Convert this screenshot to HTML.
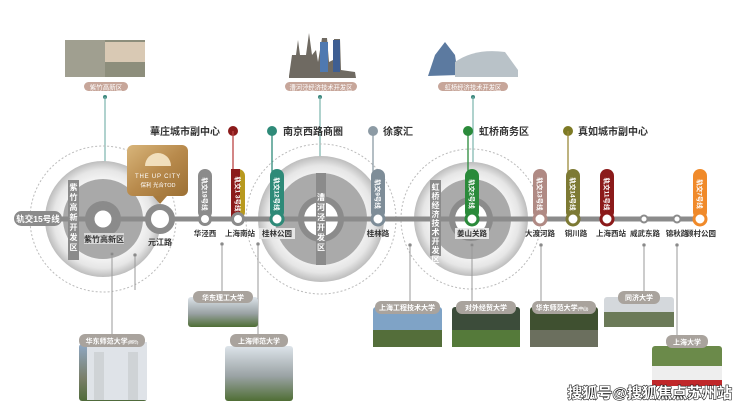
<!DOCTYPE html>
<html><head><meta charset="utf-8"><style>
html,body{margin:0;padding:0;background:#fff;}
svg{display:block;font-family:"Liberation Sans","Noto Sans CJK SC",sans-serif;}
</style></head><body>
<svg width="740" height="406" viewBox="0 0 740 406" xmlns="http://www.w3.org/2000/svg">
<defs>
<radialGradient id="rg" cx="50%" cy="50%" r="50%">
<stop offset="0.6" stop-color="#fafafa"/><stop offset="0.85" stop-color="#e6e6e6"/><stop offset="1" stop-color="#bdbdbd"/>
</radialGradient>
<linearGradient id="gold" x1="0" y1="0" x2="1" y2="1"><stop offset="0" stop-color="#d8b57a"/><stop offset="0.5" stop-color="#b88a4c"/><stop offset="1" stop-color="#9c7034"/></linearGradient>
<linearGradient id="ph1" x1="0" y1="0" x2="0" y2="1"><stop offset="0" stop-color="#8fa8c4"/><stop offset="0.6" stop-color="#7a7f6a"/><stop offset="1" stop-color="#4f6b3a"/></linearGradient>
<linearGradient id="ph2" x1="0" y1="0" x2="0" y2="1"><stop offset="0" stop-color="#dde4ea"/><stop offset="0.55" stop-color="#9aa2a4"/><stop offset="1" stop-color="#4f6e35"/></linearGradient>
</defs>

<!-- top photos -->
<rect x="65" y="40" width="80" height="37" fill="#8d8e7c"/>
<rect x="65" y="40" width="40" height="37" fill="#a09f90"/>
<rect x="105" y="42" width="40" height="20" fill="#d9c9b4"/>
<rect x="84" y="82" width="44" height="9" rx="4.5" fill="#c7a69a"/>
<text x="106" y="89.5" font-size="6.5" fill="#fff" text-anchor="middle">紫竹高新区</text>
<circle cx="105" cy="97" r="2" fill="#3f8a80"/><line x1="105" y1="97" x2="105" y2="165" stroke="#7ab3ac" stroke-width="1.2"/>

<path d="M289 76 L292 55 L296 55 L298 40 L300 55 L306 55 L309 33 L312 55 L316 50 L318 62 L322 38 L327 38 L329 62 L333 60 L334 39 L340 39 L341 70 L355 72 L356 78 L289 78Z" fill="#6f6a62"/>
<rect x="320" y="42" width="8" height="30" fill="#4f79b0"/><rect x="333" y="40" width="7" height="32" fill="#3e5e92"/>
<rect x="285" y="82" width="72" height="9" rx="4.5" fill="#c7a69a"/>
<text x="321" y="89.5" font-size="6.3" fill="#fff" text-anchor="middle">漕河泾经济技术开发区</text>
<circle cx="320" cy="97" r="2" fill="#3f8a80"/><line x1="320" y1="97" x2="320" y2="160" stroke="#7ab3ac" stroke-width="1.2"/>

<path d="M428 76 L435 55 L445 42 L455 55 L458 75Z" fill="#5c7aa0"/>
<path d="M455 62 Q475 48 505 52 L518 70 L518 77 L455 77Z" fill="#b9c2c8"/>
<rect x="438" y="82" width="70" height="9" rx="4.5" fill="#c7a69a"/>
<text x="473" y="89.5" font-size="6.3" fill="#fff" text-anchor="middle">虹桥经济技术开发区</text>
<circle cx="473" cy="97" r="2" fill="#3f8a80"/><line x1="473" y1="97" x2="473" y2="170" stroke="#7ab3ac" stroke-width="1.2"/>

<!-- big circles -->
<circle cx="103" cy="219" r="73" fill="none" stroke="#bbb" stroke-width="1" stroke-dasharray="2,2"/>
<circle cx="103" cy="219" r="58" fill="url(#rg)"/>
<circle cx="103" cy="219" r="40" fill="#a9a9a9"/>
<rect x="68" y="180" width="11" height="80" fill="#8b8b8b"/>
<circle cx="103" cy="219" r="18" fill="#8b8b8b"/>

<circle cx="321" cy="219" r="75" fill="none" stroke="#bbb" stroke-width="1" stroke-dasharray="2,2"/>
<circle cx="321" cy="219" r="63" fill="url(#rg)"/>
<circle cx="321" cy="219" r="46" fill="#aaaaaa"/>
<rect x="316" y="173" width="10" height="92" fill="#8b8b8b"/>
<circle cx="321" cy="219" r="23" fill="#8b8b8b"/>
<circle cx="321" cy="219" r="17" fill="#fff"/>
<rect x="316" y="191" width="10" height="60" fill="#8b8b8b"/>

<circle cx="471" cy="219" r="70" fill="none" stroke="#bbb" stroke-width="1" stroke-dasharray="2,2"/>
<circle cx="471" cy="219" r="57" fill="url(#rg)"/>
<circle cx="471" cy="219" r="40" fill="#aaaaaa"/>
<circle cx="471" cy="219" r="22" fill="#8b8b8b"/>
<circle cx="471" cy="219" r="16" fill="#fff"/>
<rect x="430" y="180" width="11" height="76" fill="#8b8b8b"/>

<!-- main line -->
<line x1="55" y1="219" x2="700" y2="219" stroke="#8b8b8b" stroke-width="5"/>
<rect x="14" y="211" width="48" height="15" rx="7.5" fill="#8b8b8b"/>
<text x="38" y="222" font-size="8.5" fill="#fff" text-anchor="middle" font-weight="bold">轨交15号线</text>

<!-- zone vertical labels -->
<g font-size="8" fill="#fff" text-anchor="middle" font-weight="bold">
<text x="73.5" y="190">紫</text><text x="73.5" y="200">竹</text><text x="73.5" y="210">高</text><text x="73.5" y="220">新</text><text x="73.5" y="230">开</text><text x="73.5" y="240">发</text><text x="73.5" y="250">区</text>
<text x="321" y="200">漕</text><text x="321" y="210">河</text><text x="321" y="220">泾</text><text x="321" y="230">开</text><text x="321" y="240">发</text><text x="321" y="250">区</text>
<text x="435.5" y="190">虹</text><text x="435.5" y="199">桥</text><text x="435.5" y="208">经</text><text x="435.5" y="217">济</text><text x="435.5" y="226">技</text><text x="435.5" y="235">术</text><text x="435.5" y="244">开</text><text x="435.5" y="253">发</text><text x="435.5" y="262">区</text>
</g>

<!-- Zizhu station -->
<circle cx="103" cy="219" r="11" fill="#fff"/><circle cx="103" cy="219" r="11" fill="none" stroke="#8b8b8b" stroke-width="5"/>
<rect x="84" y="233" width="40" height="11" fill="#d8d8d8"/>
<text x="104" y="242" font-size="8" text-anchor="middle" font-weight="bold" fill="#333">紫竹高新区</text>

<!-- Up city -->
<rect x="127" y="145" width="61" height="51" rx="6" fill="url(#gold)"/>
<path d="M153 196 L160 204 L167 196Z" fill="#a77a3e"/>
<path d="M145 166 A13 13 0 0 1 171 166Z" fill="#f6e7c8" opacity="0.9"/>
<text x="158" y="178" font-size="6" fill="#fff" text-anchor="middle" letter-spacing="0.8">THE UP CITY</text>
<text x="158" y="187" font-size="5.5" fill="#fff" text-anchor="middle">保利 光合TOD</text>
<circle cx="160" cy="219" r="12" fill="#fff"/><circle cx="160" cy="219" r="12" fill="none" stroke="#8b8b8b" stroke-width="6"/>
<text x="160" y="245" font-size="8" text-anchor="middle" font-weight="bold" fill="#333">元江路</text>

<!-- headers -->
<g font-size="10" font-weight="bold" fill="#333">
<text x="150" y="135">華庄城市副中心</text><circle cx="233" cy="131" r="5" fill="#8b1a1a"/>
<circle cx="272" cy="131" r="5" fill="#2e8a78"/><text x="283" y="135">南京西路商圈</text>
<circle cx="373" cy="131" r="5" fill="#8c9aa4"/><text x="383" y="135">徐家汇</text>
<circle cx="468" cy="131" r="5" fill="#2a8a3a"/><text x="479" y="135">虹桥商务区</text>
<circle cx="568" cy="131" r="5" fill="#7d7a24"/><text x="578" y="135">真如城市副中心</text>
</g>
<g stroke-width="1.3">
<line x1="233" y1="131" x2="233" y2="172" stroke="#b44"/>
<line x1="272" y1="131" x2="272" y2="172" stroke="#2e8a78"/>
<line x1="373" y1="131" x2="373" y2="172" stroke="#8c9aa4"/>
<line x1="468" y1="131" x2="468" y2="172" stroke="#2a8a3a"/>
<line x1="568" y1="131" x2="568" y2="172" stroke="#9a8a3a"/>
</g>

<!-- line pills & stations -->
<g font-size="6.5" fill="#fff" text-anchor="middle" font-weight="bold">
<rect x="198" y="169" width="14" height="50" rx="7" fill="#8b8b8b"/>
<text transform="translate(205,194) rotate(90)" y="2.5">轨交19号线</text>
<rect x="231" y="169" width="14" height="50" rx="7" fill="#b8991e"/><rect x="231" y="169" width="9" height="50" fill="#8b1a1a"/>
<text transform="translate(238,194) rotate(90)" y="2.5">轨交1 3号线</text>
<rect x="270" y="169" width="14" height="50" rx="7" fill="#2e8a78"/>
<text transform="translate(277,194) rotate(90)" y="2.5">轨交12号线</text>
<rect x="371" y="169" width="14" height="50" rx="7" fill="#7e8d98"/>
<text transform="translate(378,194) rotate(90)" y="2.5">轨交9号线</text>
<rect x="465" y="169" width="14" height="50" rx="7" fill="#2a8a3a"/>
<text transform="translate(472,194) rotate(90)" y="2.5">轨交2号线</text>
<rect x="533" y="169" width="14" height="50" rx="7" fill="#b08a84"/>
<text transform="translate(540,194) rotate(90)" y="2.5">轨交13号线</text>
<rect x="566" y="169" width="14" height="50" rx="7" fill="#7d7a34"/>
<text transform="translate(573,194) rotate(90)" y="2.5">轨交14号线</text>
<rect x="600" y="169" width="14" height="50" rx="7" fill="#8b1a1a"/>
<text transform="translate(607,194) rotate(90)" y="2.5">轨交11号线</text>
<rect x="693" y="169" width="14" height="50" rx="7" fill="#f08a2a"/>
<text transform="translate(700,194) rotate(90)" y="2.5">轨交7号线</text>
</g>
<g stroke-width="3" fill="#fff">
<circle cx="205" cy="219" r="5.5" stroke="#8b8b8b"/>
<circle cx="238" cy="219" r="5.5" stroke="#8b8b8b"/>
<circle cx="277" cy="219" r="6" stroke="#2e8a78"/>
<circle cx="378" cy="219" r="6" stroke="#7e8d98"/>
<circle cx="472" cy="219" r="6" stroke="#2a8a3a"/>
<circle cx="540" cy="219" r="6" stroke="#b08a84"/>
<circle cx="573" cy="219" r="6" stroke="#7d7a34"/>
<circle cx="607" cy="219" r="6" stroke="#8b1a1a"/>
<circle cx="644" cy="219" r="3.5" stroke="#8b8b8b" stroke-width="2"/>
<circle cx="677" cy="219" r="3.5" stroke="#8b8b8b" stroke-width="2"/>
<circle cx="700" cy="219" r="6" stroke="#f08a2a"/>
</g>
<g font-size="7.5" font-weight="bold" fill="#333" text-anchor="middle">
<text x="205" y="236">华泾西</text><text x="240" y="236">上海南站</text>
<rect x="259" y="228" width="36" height="11" fill="#e6e6e6"/><text x="277" y="236">桂林公园</text>
<text x="378" y="236">桂林路</text>
<rect x="455" y="228" width="34" height="11" fill="#e6e6e6"/><text x="472" y="236">姜山关路</text>
<text x="540" y="236">大渡河路</text><text x="576" y="236">铜川路</text><text x="611" y="236">上海西站</text>
<text x="645" y="236">威武东路</text><text x="677" y="236">锦秋路</text><text x="701" y="236">顾村公园</text>
</g>

<!-- bottom connectors -->
<g stroke="#9a9a9a" stroke-width="1" fill="#777">
<line x1="112" y1="254" x2="112" y2="338"/><circle cx="112" cy="254" r="1.3"/>
<line x1="135" y1="255" x2="135" y2="290"/><circle cx="135" cy="255" r="1.3"/>
<line x1="222" y1="244" x2="222" y2="292"/><circle cx="222" cy="244" r="1.3"/>
<line x1="258" y1="244" x2="258" y2="338"/><circle cx="258" cy="244" r="1.3"/>
<line x1="410" y1="245" x2="410" y2="303"/><circle cx="410" cy="245" r="1.3"/>
<line x1="472" y1="245" x2="472" y2="303"/><circle cx="472" cy="245" r="1.3"/>
<line x1="541" y1="245" x2="541" y2="303"/><circle cx="541" cy="245" r="1.3"/>
<line x1="644" y1="245" x2="644" y2="292"/><circle cx="644" cy="245" r="1.3"/>
<line x1="677" y1="245" x2="677" y2="338"/><circle cx="677" cy="245" r="1.3"/>
</g>

<!-- bottom cards -->
<g font-size="7" font-weight="bold" fill="#fff" text-anchor="middle">
<rect x="188" y="297" width="70" height="30" rx="3" fill="url(#ph2)"/>
<rect x="193" y="291" width="60" height="12" rx="6" fill="#a9a39d"/><text x="223" y="300">华东理工大学</text>

<rect x="79" y="344" width="68" height="57" rx="3" fill="url(#ph1)"/>
<rect x="87" y="342" width="60" height="58" fill="#dfe3e8"/>
<rect x="94" y="352" width="10" height="48" fill="#cfd3d6"/><rect x="128" y="352" width="10" height="48" fill="#cfd3d6"/>
<rect x="79" y="334" width="66" height="13" rx="6" fill="#a9a39d"/><text x="112" y="343.5">华东师范大学<tspan font-size="4">(闵行)</tspan></text>

<rect x="225" y="346" width="68" height="55" rx="3" fill="url(#ph2)"/>
<rect x="230" y="334" width="58" height="13" rx="6" fill="#a9a39d"/><text x="259" y="343.5">上海师范大学</text>

<rect x="373" y="307" width="69" height="40" rx="3" fill="#7fa3c6"/><rect x="373" y="330" width="69" height="17" fill="#546e3a"/>
<rect x="375" y="301" width="65" height="13" rx="6" fill="#a9a39d"/><text x="407" y="310">上海工程技术大学</text>
<rect x="452" y="307" width="68" height="40" rx="3" fill="#3c4c3a"/><rect x="452" y="330" width="68" height="17" fill="#557a3a"/>
<rect x="456" y="301" width="60" height="13" rx="6" fill="#a9a39d"/><text x="486" y="310">对外经贸大学</text>
<rect x="530" y="307" width="68" height="40" rx="3" fill="#3f5030"/><rect x="530" y="330" width="68" height="17" fill="#6b6f5e"/>
<rect x="532" y="301" width="64" height="13" rx="6" fill="#a9a39d"/><text x="562" y="310">华东师范大学<tspan font-size="4">(中山)</tspan></text>

<rect x="604" y="297" width="70" height="30" rx="3" fill="#d4d8dc"/><rect x="604" y="312" width="70" height="15" fill="#6b7a58"/>
<rect x="618" y="291" width="42" height="13" rx="6" fill="#a9a39d"/><text x="639" y="300">同济大学</text>
<rect x="652" y="346" width="70" height="40" rx="3" fill="#6b8a4a"/><rect x="652" y="366" width="70" height="20" fill="#eee"/><rect x="652" y="380" width="70" height="6" fill="#c0282a"/>
<rect x="666" y="335" width="42" height="13" rx="6" fill="#a9a39d"/><text x="687" y="344.5">上海大学</text>
</g>

<text x="732" y="398" font-size="15" font-weight="bold" fill="#fff" stroke="#222" stroke-width="1.2" paint-order="stroke" text-anchor="end">搜狐号@搜狐焦点苏州站</text>
</svg>
</body></html>
